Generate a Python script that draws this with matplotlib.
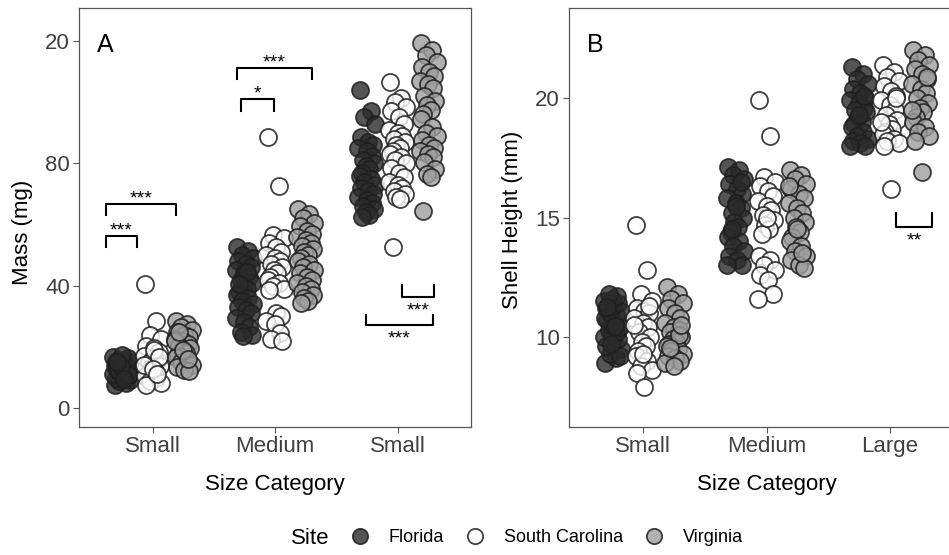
import numpy as np
import matplotlib
matplotlib.use('Agg')
import matplotlib.pyplot as plt
from matplotlib.lines import Line2D

plt.rcParams['font.family'] = ['Liberation Sans', 'DejaVu Sans']

# ---- data ----
sites = ['Florida', 'South Carolina', 'Virginia']
cats_a = ['Small', 'Medium', 'Small']
cats_b = ['Small', 'Medium', 'Large']

# Panel A: mass (mg)
fl_small = [7.5, 8.2, 8.8, 9.3, 9.8, 10.2, 10.6, 11.0, 11.3, 11.7, 12.0, 12.3, 12.7, 13.0, 13.4,
            13.8, 14.1, 14.5, 14.9, 15.3, 15.7, 16.2, 16.8, 17.2, 11.5, 12.5, 10.8, 13.6, 9.5, 15.0]
sc_small = [40.5, 28.4, 24.0, 22.5, 20.3, 19.5, 18.2, 17.0, 16.2, 15.5, 14.6, 13.8, 13.0, 12.2,
            11.4, 10.6, 9.8, 9.0, 8.2, 7.6, 19.0, 16.8, 14.0, 12.8, 11.0]
va_small = [28.6, 27.5, 26.4, 25.6, 24.8, 24.0, 23.3, 22.5, 21.8, 21.0, 20.4, 19.6, 18.8, 18.0,
            17.3, 16.6, 15.8, 15.0, 14.2, 13.4, 12.6, 12.0, 22.0, 19.0, 16.0, 25.0]
fl_med = [52.5, 51.5, 50.2, 49.0, 48.0, 47.0, 46.2, 45.0, 44.0, 43.0, 42.0, 41.0, 40.0, 39.0, 38.0,
          37.0, 36.0, 35.0, 34.0, 33.0, 32.0, 31.0, 29.5, 28.0, 26.5, 25.0, 24.0, 23.5, 44.5, 40.5]
sc_med = [88.6, 72.6, 56.5, 55.5, 54.0, 52.5, 51.0, 50.0, 49.0, 48.0, 47.0, 46.0, 45.0, 44.0, 43.0,
          42.0, 41.0, 40.0, 39.0, 38.5, 31.0, 30.0, 28.5, 27.5, 24.5, 22.5, 22.0]
va_med = [65.0, 63.5, 62.0, 60.5, 59.5, 58.0, 57.0, 56.0, 55.0, 54.0, 53.0, 52.0, 51.0, 50.0, 49.0,
          48.0, 47.0, 46.0, 45.0, 44.0, 43.0, 42.0, 41.0, 40.0, 39.0, 38.0, 37.0, 36.0, 35.0, 34.5]
fl_lg = [104.0, 97.0, 95.0, 93.0, 88.5, 87.0, 86.0, 85.0, 84.0, 82.5, 81.0, 80.0, 79.0, 78.0, 77.0,
         76.0, 75.0, 74.0, 73.0, 72.0, 71.0, 70.0, 69.0, 68.0, 67.0, 66.0, 65.0, 64.0, 63.0, 62.5]
sc_lg = [106.5, 101.5, 100.0, 98.5, 97.0, 95.0, 93.0, 91.0, 90.0, 89.0, 88.0, 87.0, 86.0, 85.0, 84.0,
         83.0, 82.0, 81.0, 80.0, 78.5, 77.0, 75.5, 74.0, 73.0, 72.0, 71.0, 70.0, 69.0, 68.5, 52.5]
va_lg = [119.5, 117.0, 115.5, 113.0, 111.5, 110.0, 108.5, 107.0, 106.0, 104.5, 102.0, 100.5, 99.0,
         97.5, 96.0, 94.5, 92.0, 90.0, 89.0, 87.5, 86.0, 85.0, 84.0, 83.0, 82.0, 80.5, 78.0, 76.5,
         75.5, 64.5]

# Panel B: shell height (mm)
fl_s = [8.9, 9.1, 9.3, 9.5, 9.6, 9.8, 9.9, 10.0, 10.1, 10.2, 10.3, 10.4, 10.5, 10.6, 10.7, 10.8,
        10.9, 11.0, 11.1, 11.2, 11.3, 11.4, 11.5, 11.6, 11.7, 11.8, 9.2, 9.7, 10.45, 11.25]
sc_s = [14.7, 12.8, 11.8, 11.5, 11.2, 11.1, 11.0, 10.8, 10.6, 10.4, 10.2, 10.0, 9.8, 9.6, 9.4, 9.2,
        9.0, 8.8, 8.6, 8.5, 7.9, 11.3, 10.5, 9.3]
va_s = [12.1, 11.8, 11.6, 11.4, 11.2, 11.0, 10.8, 10.6, 10.4, 10.3, 10.2, 10.0, 9.9, 9.8, 9.7, 9.6,
        9.5, 9.4, 9.3, 9.2, 9.1, 9.0, 8.9, 8.8, 10.1, 9.55, 10.5]
fl_m = [17.1, 17.0, 16.8, 16.6, 16.4, 16.2, 16.0, 15.8, 15.6, 15.4, 15.2, 15.0, 14.8, 14.6, 14.4,
        14.2, 14.0, 13.8, 13.6, 13.4, 13.2, 13.0, 13.0, 15.5, 16.5, 14.5]
sc_m = [19.9, 18.4, 16.7, 16.5, 16.3, 16.1, 15.9, 15.7, 15.5, 15.3, 15.1, 14.9, 14.7, 14.5, 14.3,
        13.4, 13.2, 13.0, 12.8, 12.6, 12.4, 11.8, 11.6, 15.0]
va_m = [17.0, 16.8, 16.6, 16.4, 16.2, 16.0, 15.8, 15.6, 15.4, 15.2, 15.0, 14.8, 14.6, 14.4, 14.2,
        14.0, 13.8, 13.6, 13.4, 13.2, 13.0, 12.9, 16.3, 14.5, 13.5]
fl_l = [21.3, 21.0, 20.8, 20.6, 20.4, 20.2, 20.0, 19.9, 19.8, 19.6, 19.5, 19.4, 19.2, 19.0, 18.9,
        18.8, 18.6, 18.4, 18.3, 18.2, 18.1, 18.0, 18.0, 19.3, 20.1]
sc_l = [21.4, 21.1, 20.9, 20.7, 20.5, 20.3, 20.1, 19.9, 19.7, 19.5, 19.3, 19.1, 18.9, 18.7, 18.6,
        18.5, 18.3, 18.2, 18.1, 18.0, 16.2, 20.0, 19.0]
va_l = [22.0, 21.8, 21.6, 21.4, 21.2, 21.0, 20.8, 20.6, 20.4, 20.2, 20.0, 19.8, 19.6, 19.4, 19.2,
        19.0, 18.8, 18.6, 18.4, 18.2, 16.9, 20.9, 19.5]

mass = [[fl_small, sc_small, va_small], [fl_med, sc_med, va_med], [fl_lg, sc_lg, va_lg]]
height = [[fl_s, sc_s, va_s], [fl_m, sc_m, va_m], [fl_l, sc_l, va_l]]

# significance brackets: (x0, x1, y_line, y_tip, label)
brk_a = [(0.62, 0.87, 56.3, 52.6, '***'), (0.62, 1.19, 66.7, 63.0, '***'),
         (1.72, 1.99, 101.0, 97.2, '*'), (1.69, 2.30, 111.2, 107.6, '***'),
         (3.04, 3.30, 36.3, 40.2, '***'), (2.74, 3.29, 27.1, 30.4, '***')]
brk_b = [(3.05, 3.34, 14.6, 15.2, '**')]

# ---- style ----
fills = [(0.17, 0.17, 0.17, 0.8), (1, 1, 1, 0.8), (0.62, 0.62, 0.62, 0.8)]
edge = (0.12, 0.12, 0.12, 0.85)
dodge = [-0.25, 0.0, 0.25]
jit = [-0.06, 0.03, -0.02, 0.07, -0.05, 0.01, 0.05, -0.07, 0.0, 0.04, -0.03, 0.06, -0.01, 0.02, -0.04]
frame_col = '#555555'
fs = 16


def draw_panel(ax, groups, cats, brackets, ylim, yticks, yticklabels, ylabel, letter, ylab_y):
    for ci, per_site in enumerate(groups):
        for si, vals in enumerate(per_site):
            xs = [ci + 1 + dodge[si] + jit[k % len(jit)] for k in range(len(vals))]
            ax.scatter(xs, vals, s=150, facecolor=fills[si], edgecolor=edge, linewidth=1.3, zorder=3)
    for x0, x1, yl, yt, lab in brackets:
        ax.plot([x0, x0, x1, x1], [yt, yl, yl, yt], color='black', lw=1.5, zorder=4)
        # asterisks above an upward bracket, below a downward one (offsets in points)
        dy = 0.5 if yt < yl else -13.5
        ax.annotate(lab, ((x0 + x1) / 2, yl), xytext=(0, dy), textcoords='offset points',
                    ha='center', va='baseline', fontsize=14, zorder=5)
    ax.set_xlim(0.4, 3.6)
    ax.set_ylim(*ylim)
    ax.set_xticks([1, 2, 3])
    ax.set_xticklabels(cats)
    ax.set_yticks(yticks)
    ax.set_yticklabels(yticklabels)
    ax.tick_params(length=4, width=0.8, color=frame_col, labelcolor='#404040', labelsize=fs, pad=2.5)
    for sp in ax.spines.values():
        sp.set_color(frame_col)
        sp.set_linewidth(0.9)
    ax.set_xlabel('Size Category', fontsize=fs)
    ax.set_ylabel(ylabel, fontsize=fs)
    ax.yaxis.set_label_coords(-0.117, ylab_y)
    ax.xaxis.set_label_coords(0.5, -0.112)
    ax.text(0.045, 0.94, letter, transform=ax.transAxes, fontsize=18, va='top', ha='left')


fig = plt.figure(figsize=(9.49, 5.55), dpi=100)
ax1 = fig.add_axes([79 / 949, 128 / 555, 392 / 949, 419 / 555])
ax2 = fig.add_axes([569 / 949, 128 / 555, 395 / 949, 419 / 555])

draw_panel(ax1, mass, cats_a, brk_a, (-6.2, 130.8), [0, 40, 80, 120], ['0', '40', '80', '20'],
           'Mass (mg)', 'A', 0.465)
draw_panel(ax2, height, cats_b, brk_b, (6.23, 23.77), [10, 15, 20], ['10', '15', '20'],
           'Shell Height (mm)', 'B', 0.494)

handles = [Line2D([], [], ls='none', marker='o', markersize=11, markerfacecolor=fills[i],
                  markeredgecolor=edge, markeredgewidth=1.3) for i in range(3)]
fig.text(310 / 949, 1 - 538 / 555, 'Site', fontsize=fs, ha='center', va='center')
fig.legend(handles, sites, ncol=3, loc='center left', bbox_to_anchor=(342 / 949, 1 - 538 / 555),
           frameon=False, fontsize=13, handletextpad=0.6, columnspacing=0.7,
           borderpad=0, borderaxespad=0)

fig.savefig('out.png', dpi=100)
